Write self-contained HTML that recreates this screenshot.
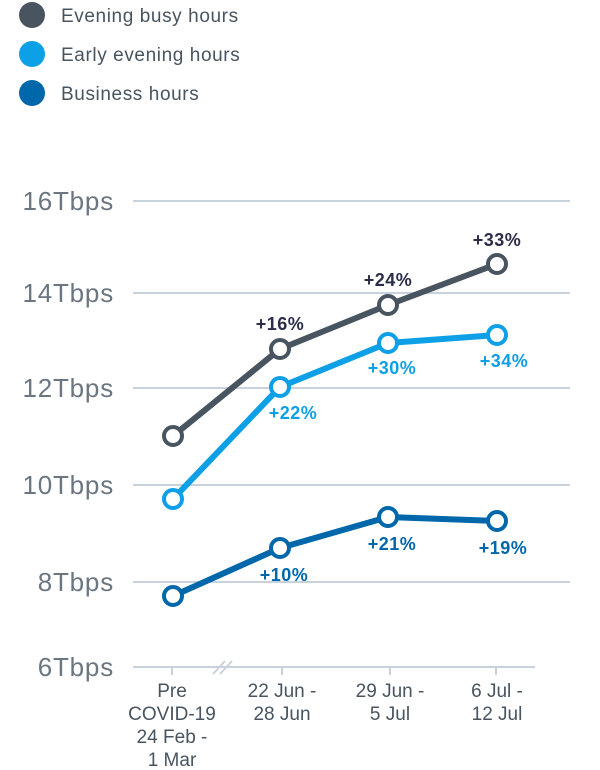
<!DOCTYPE html>
<html><head><meta charset="utf-8"><style>
html,body{margin:0;padding:0;background:#fff;width:600px;height:770px;overflow:hidden}
svg{display:block;font-family:"Liberation Sans",sans-serif}
</style></head><body>
<svg width="600" height="770" viewBox="0 0 600 770">
<circle cx="32" cy="15" r="13" fill="#48545f"/>
<circle cx="32" cy="54" r="13" fill="#0ea0e6"/>
<circle cx="32" cy="93" r="13" fill="#0067ab"/>
<g fill="#48545f" font-size="19" letter-spacing="0.6">
<text x="61" y="22">Evening busy hours</text>
<text x="61" y="61">Early evening hours</text>
<text x="61" y="100">Business hours</text>
</g>
<g stroke="#c8d2dc" stroke-width="2">
<line x1="133" y1="201" x2="570" y2="201"/>
<line x1="133" y1="293" x2="570" y2="293"/>
<line x1="133" y1="388" x2="570" y2="388"/>
<line x1="133" y1="485" x2="570" y2="485"/>
<line x1="133" y1="582" x2="570" y2="582"/>
<line x1="133" y1="667" x2="535" y2="667"/>
<line x1="172" y1="667" x2="172" y2="675"/>
<line x1="282" y1="667" x2="282" y2="675"/>
<line x1="390" y1="667" x2="390" y2="675"/>
<line x1="496" y1="667" x2="496" y2="675"/>
<line x1="213" y1="674" x2="225" y2="661"/>
<line x1="220" y1="674" x2="232" y2="661"/>
</g>
<g fill="#6b7680" font-size="26" text-anchor="end" letter-spacing="0.8">
<text x="114" y="210">16Tbps</text>
<text x="114" y="302">14Tbps</text>
<text x="114" y="397">12Tbps</text>
<text x="114" y="494">10Tbps</text>
<text x="114" y="591">8Tbps</text>
<text x="114" y="676">6Tbps</text>
</g>
<g fill="#48545f" font-size="19" text-anchor="middle">
<text x="172" y="697">Pre</text><text x="172" y="720">COVID-19</text><text x="172" y="743">24 Feb -</text><text x="172" y="766">1 Mar</text>
<text x="282" y="697">22 Jun -</text><text x="282" y="720">28 Jun</text>
<text x="390" y="697">29 Jun -</text><text x="390" y="720">5 Jul</text>
<text x="497" y="697">6 Jul -</text><text x="497" y="720">12 Jul</text>
</g>
<g fill="none" stroke-width="6" stroke-linejoin="round">
<polyline points="173,436 280,349 388,305 497,264" stroke="#48545f"/>
<polyline points="173,499 280,387 388,343 497,335" stroke="#0ea0e6"/>
<polyline points="173,596 280,548 388,517 497,521" stroke="#0067ab"/>
</g>
<g fill="#fff" stroke-width="4">
<g stroke="#48545f"><circle cx="173" cy="436" r="9"/><circle cx="280" cy="349" r="9"/><circle cx="388" cy="305" r="9"/><circle cx="497" cy="264" r="9"/></g>
<g stroke="#0ea0e6"><circle cx="173" cy="499" r="9"/><circle cx="280" cy="387" r="9"/><circle cx="388" cy="343" r="9"/><circle cx="497" cy="335" r="9"/></g>
<g stroke="#0067ab"><circle cx="173" cy="596" r="9"/><circle cx="280" cy="548" r="9"/><circle cx="388" cy="517" r="9"/><circle cx="497" cy="521" r="9"/></g>
</g>
<g font-size="18" font-weight="bold" text-anchor="middle" letter-spacing="0.5">
<g fill="#2b2d4a"><text x="280" y="330">+16%</text><text x="388" y="286">+24%</text><text x="497" y="246">+33%</text></g>
<g fill="#0ea0e6"><text x="293" y="419">+22%</text><text x="392" y="374">+30%</text><text x="504" y="367">+34%</text></g>
<g fill="#0067ab"><text x="284" y="581">+10%</text><text x="392" y="550">+21%</text><text x="503" y="554">+19%</text></g>
</g>
</svg>
</body></html>
